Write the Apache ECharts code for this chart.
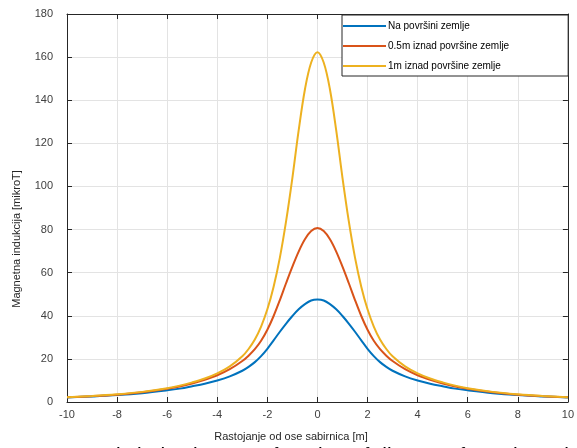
<!DOCTYPE html>
<html>
<head>
<meta charset="utf-8">
<script src="https://cdn.jsdelivr.net/npm/echarts@6/dist/echarts.min.js"></script>
<style>
  html, body { margin: 0; padding: 0; background: #fff; }
  #main { width: 577px; height: 448px; }
</style>
</head>
<body>
<div id="main"></div>
<script>
// rastojanje [m], desna polovina (lijeva je simetricna)
var xHalf = [0, 0.25, 0.5, 0.75, 1, 1.25, 1.5, 1.75, 2, 2.25, 2.5, 2.75, 3, 3.5, 4, 4.5, 5, 5.5, 6, 7, 8, 9, 10];
var naPovrsini = [47.5, 47.1, 45.4, 43.0, 39.9, 36.4, 32.6, 28.6, 24.7, 21.3, 18.5, 16.3, 14.5, 11.9, 10.0, 8.5, 7.3, 6.2, 5.4, 4.1, 3.2, 2.6, 2.1];
var iznad05 = [80.7, 79.3, 75.5, 69.8, 62.8, 55.2, 47.3, 39.9, 33.5, 28.4, 24.5, 21.5, 19.0, 15.2, 12.4, 10.3, 8.6, 7.2, 6.1, 4.5, 3.4, 2.7, 2.2];
var iznad1 = [162.3, 157.5, 145.0, 126.0, 104.0, 84.0, 67.0, 53.5, 43.0, 35.0, 29.0, 24.6, 21.2, 16.5, 13.3, 10.9, 9.1, 7.6, 6.4, 4.7, 3.6, 2.8, 2.2];
var xTicks = [-10, -8, -6, -4, -2, 0, 2, 4, 6, 8, 10];
var yTicks = [0, 20, 40, 60, 80, 100, 120, 140, 160, 180];
var names = ['Na površini zemlje', '0.5m iznad površine zemlje', '1m iznad površine zemlje'];
var colors = ['#0072BD', '#D95319', '#EDB120'];

function pairs(vals) {
  var out = [];
  for (var i = xHalf.length - 1; i > 0; i--) out.push([-xHalf[i], vals[i]]);
  for (var j = 0; j < xHalf.length; j++) out.push([xHalf[j], vals[j]]);
  return out;
}

var font = 'Liberation Sans, Arial, sans-serif';
var axisColor = '#262626';
var labelColor = '#404040';

function series(i, vals) {
  return {
    name: names[i],
    type: 'line',
    data: pairs(vals),
    smooth: 0.35,
    symbol: 'none',
    lineStyle: { color: colors[i], width: 2 },
    itemStyle: { color: colors[i] },
    z: 3 + i
  };
}

var myChart = echarts.init(document.getElementById('main'));
myChart.setOption({
  backgroundColor: '#fff',
  animation: false,
  grid: { left: 67, right: 4, top: 14, bottom: 46 },
  legend: {
    orient: 'vertical',
    left: 342,
    top: 15,
    data: names,
    icon: 'path://M0,0 L43,0 L43,2 L0,2 Z',
    itemWidth: 43,
    itemHeight: 12,
    itemGap: 8,
    padding: [5, 59, 4, 1],
    borderColor: axisColor,
    borderWidth: 1,
    backgroundColor: '#fff',
    textStyle: { fontFamily: font, fontSize: 10, color: '#000', lineHeight: 12, padding: [0, 0, 0, -3] }
  },
  xAxis: [{
    type: 'value',
    min: -10,
    max: 10,
    interval: 2,
    axisLine: { onZero: false, lineStyle: { color: axisColor } },
    axisTick: { inside: true, length: 5, lineStyle: { color: axisColor } },
    axisLabel: { fontFamily: font, fontSize: 11, color: labelColor, margin: 7 },
    splitLine: { show: true, lineStyle: { color: '#e3e3e3' } }
  }, {
    type: 'value',
    position: 'top',
    min: -10,
    max: 10,
    interval: 2,
    axisLine: { show: true, onZero: false, lineStyle: { color: axisColor } },
    axisTick: { inside: true, length: 5, lineStyle: { color: axisColor } },
    axisLabel: { show: false },
    splitLine: { show: false }
  }],
  yAxis: [{
    type: 'value',
    min: 0,
    max: 180,
    interval: 20,
    axisLine: { show: true, onZero: false, lineStyle: { color: axisColor } },
    axisTick: { show: true, inside: true, length: 5, lineStyle: { color: axisColor } },
    axisLabel: { fontFamily: font, fontSize: 11, color: labelColor, margin: 14 },
    splitLine: { show: true, lineStyle: { color: '#e3e3e3' } }
  }, {
    type: 'value',
    position: 'right',
    min: 0,
    max: 180,
    interval: 20,
    axisLine: { show: true, onZero: false, lineStyle: { color: axisColor } },
    axisTick: { show: true, inside: true, length: 5, lineStyle: { color: axisColor } },
    axisLabel: { show: false },
    splitLine: { show: false }
  }],
  graphic: [{
    type: 'text',
    x: 17,
    y: 239,
    rotation: Math.PI / 2,
    style: {
      text: 'Magnetna indukcija [mikroT]',
      fontFamily: font, fontSize: 11, fill: '#262626',
      textAlign: 'center', textVerticalAlign: 'middle'
    }
  }, {
    type: 'text',
    x: 291,
    y: 437,
    style: {
      text: 'Rastojanje od ose sabirnica [m]',
      fontFamily: font, fontSize: 11, fill: '#262626',
      textAlign: 'center', textVerticalAlign: 'middle'
    }
  }, {
    type: 'text',
    x: 46,
    y: 446,
    style: {
      text: 'Magnetic induction as a function of distance from the axis of the busbars',
      fontFamily: font, fontSize: 21, fill: '#000',
      textAlign: 'left', textVerticalAlign: 'top'
    }
  }],
  series: [
    series(0, naPovrsini),
    series(1, iznad05),
    series(2, iznad1)
  ]
});
</script>
</body>
</html>
